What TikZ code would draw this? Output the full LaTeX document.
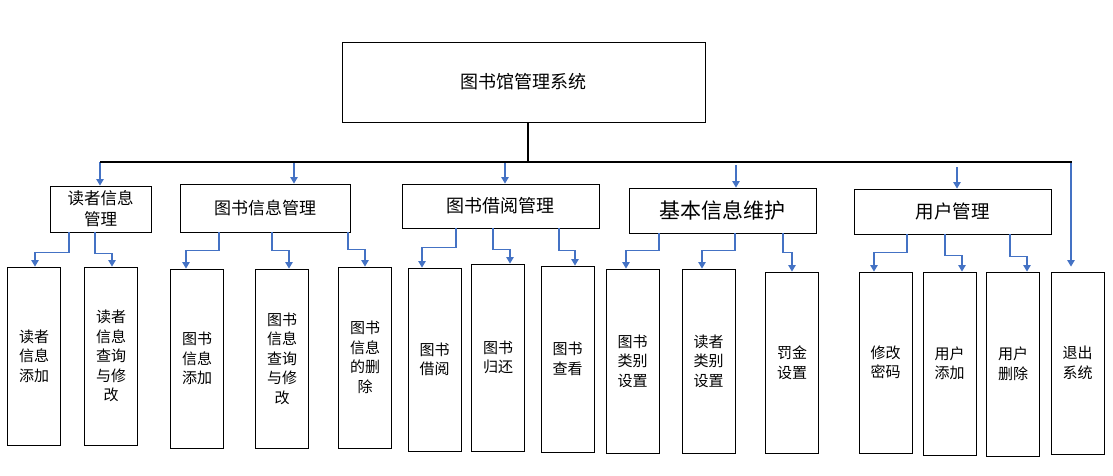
\documentclass[tikz,border=0pt]{standalone}
\usepackage{fontspec}
\setmainfont{Noto Sans CJK SC}
\usepackage{xcolor}
\usepackage{tikz}
\usetikzlibrary{arrows.meta}
\definecolor{LinkBlue}{RGB}{68, 114, 196}
\definecolor{BoxLine}{RGB}{0, 0, 0}

\tikzset{
  box/.style={draw=BoxLine, line width=0.9pt, align=center, inner sep=0pt},
  leaf/.style={box, minimum width=53pt, font=\fontsize{15}{19.5}\selectfont},
  arr/.style={draw=LinkBlue, line width=1.1pt, -{Triangle[width=7.5pt,length=6.5pt]}},
  bus/.style={draw=black, line width=1.6pt}
}

\begin{document}
\begin{tikzpicture}[x=1pt, y=-1pt]
    \useasboundingbox (0,0) rectangle (1113,475);

    % top
    \node[box, minimum width=363pt, minimum height=80pt, font=\fontsize{18}{22}\selectfont] (lms) at (523.5,82) {图书馆管理系统};

    % second level
    \node[box, minimum width=101pt, minimum height=46pt, font=\fontsize{16.5}{21}\selectfont] (rdgl) at (100.5,209) {读者信息\\管理};
    \node[box, minimum width=170pt, minimum height=48pt, font=\fontsize{17}{20}\selectfont] (tsgl) at (265,208) {图书信息管理};
    \node[box, minimum width=197pt, minimum height=44pt, font=\fontsize{18}{20}\selectfont] (jygl) at (500.5,206) {图书借阅管理};
    \node[box, minimum width=187pt, minimum height=45pt, font=\fontsize{21}{24}\selectfont] (jbwh) at (722.5,210.5) {基本信息维护};
    \node[box, minimum width=197pt, minimum height=45pt, font=\fontsize{18.5}{21}\selectfont] (yhgl) at (952.5,211.5) {用户管理};

    % leaves
    \node[leaf, minimum height=178pt] (dztj) at (34,356) {读者\\信息\\添加};
    \node[leaf, minimum height=178pt] (dzcx) at (111,356) {读者\\信息\\查询\\与修\\改};
    \node[leaf, minimum height=179pt] (tstj) at (197,358.5) {图书\\信息\\添加};
    \node[leaf, minimum height=179pt] (tscx) at (282,358.5) {图书\\信息\\查询\\与修\\改};
    \node[leaf, minimum height=181pt] (tssc) at (365,357.5) {图书\\信息\\的删\\除};
    \node[leaf, minimum height=183pt] (tsjy) at (434.5,359.5) {图书\\借阅};
    \node[leaf, minimum height=187pt] (tsgh) at (498,357.5) {图书\\归还};
    \node[leaf, minimum height=186pt] (tsck) at (567.5,359) {图书\\查看};
    \node[leaf, minimum height=184pt] (tslb) at (632.5,361) {图书\\类别\\设置};
    \node[leaf, minimum height=184pt] (dzlb) at (708.5,361) {读者\\类别\\设置};
    \node[leaf, minimum height=181pt] (fjsz) at (792,362.5) {罚金\\设置};
    \node[leaf, minimum height=181pt] (xgmm) at (885.5,362.5) {修改\\密码};
    \node[leaf, minimum height=183pt] (yhtj) at (949.5,363.5) {用户\\添加};
    \node[leaf, minimum height=184pt] (yhsc) at (1013,364) {用户\\删除};
    \node[leaf, minimum height=182pt] (tcxt) at (1077.5,363) {退出\\系统};

    % bus
    \coordinate (busL) at (100,162);
    \coordinate (busR) at (1072,162);
    \draw[arr] (busL) -- (rdgl.north -| 100,0);
    \draw[arr] (busL -| 294,0) -- (tsgl.north -| 294,0);
    \draw[arr] (busL -| 505,0) -- (jygl.north -| 505,0);
    \draw[arr, shorten <=3pt] (busL -| 736,0) -- (jbwh.north -| 736,0);
    \draw[arr, shorten <=5pt] (busL -| 957,0) -- (yhgl.north -| 957,0);
    \draw[arr, shorten >=5pt] (busR -| 1071,0) -- (tcxt.north -| 1071,0);
    \draw[bus] (busL) -- (busR);
    \draw[bus] (lms.south -| 528,0) -- (busL -| 528,0);

    % elbows
    \draw[arr] (rdgl.south -| 69,0) -- ++(0,20) -| (dztj.north -| 35,0);
    \draw[arr] (rdgl.south -| 95,0) -- ++(0,21) -| (dzcx.north -| 112,0);
    \draw[arr] (tsgl.south -| 219,0) -- ++(0,18) -| (tstj.north -| 186,0);
    \draw[arr] (tsgl.south -| 272,0) -- ++(0,18) -| (tscx.north -| 289,0);
    \draw[arr] (tsgl.south -| 348,0) -- ++(0,17) -| (tssc.north -| 365,0);
    \draw[arr] (jygl.south -| 456,0) -- ++(0,19) -| (tsjy.north -| 422,0);
    \draw[arr] (jygl.south -| 493,0) -- ++(0,21) -| (tsgh.north -| 510,0);
    \draw[arr] (jygl.south -| 559,0) -- ++(0,22) -| (tsck.north -| 575,0);
    \draw[arr] (jbwh.south -| 659,0) -- ++(0,17) -| (tslb.north -| 626,0);
    \draw[arr] (jbwh.south -| 735,0) -- ++(0,17) -| (dzlb.north -| 702,0);
    \draw[arr] (jbwh.south -| 783,0) -- ++(0,19) -| (fjsz.north -| 792,0);
    \draw[arr] (yhgl.south -| 907,0) -- ++(0,18) -| (xgmm.north -| 874,0);
    \draw[arr] (yhgl.south -| 945,0) -- ++(0,21) -| (yhtj.north -| 962,0);
    \draw[arr] (yhgl.south -| 1010,0) -- ++(0,22) -| (yhsc.north -| 1027,0);
\end{tikzpicture}
\end{document}
